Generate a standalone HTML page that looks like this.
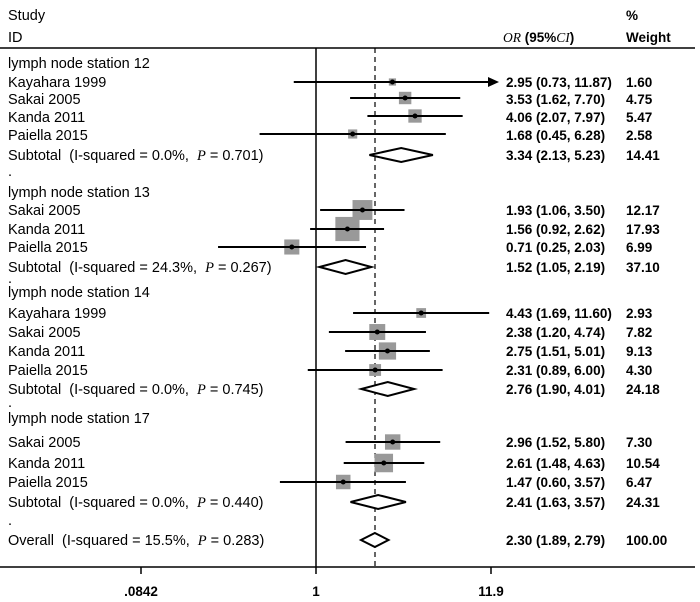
<!DOCTYPE html>
<html><head><meta charset="utf-8"><style>
body{margin:0;background:#fff}
svg{display:block}
text{font-family:"Liberation Sans",Arial,sans-serif;font-size:14.5px;fill:#000}
.n{font-size:13.5px;font-weight:bold}
.it{font-family:"Liberation Serif",serif;font-style:italic;font-weight:normal}
</style></head><body>
<svg id="s" width="700" height="602" viewBox="0 0 700 602">
<text x="8" y="20">Study</text><text x="8" y="42">ID</text>
<text class="n" x="503" y="42"><tspan class="it">OR</tspan> (95%<tspan class="it">CI</tspan>)</text>
<text class="n" x="626" y="20">%</text><text class="n" x="626" y="42">Weight</text>
<line x1="0" y1="48" x2="695" y2="48" stroke="#000" stroke-width="1.5"/>
<line x1="316" y1="48" x2="316" y2="567" stroke="#000" stroke-width="1.5"/>
<line x1="375" y1="48" x2="375" y2="567" stroke="#000" stroke-width="1.2" stroke-dasharray="5,4"/>
<line x1="0" y1="567" x2="695" y2="567" stroke="#000" stroke-width="1.5"/>
<line x1="141" y1="567" x2="141" y2="574" stroke="#000" stroke-width="1.5"/>
<line x1="316" y1="567" x2="316" y2="574" stroke="#000" stroke-width="1.5"/>
<line x1="491" y1="567" x2="491" y2="574" stroke="#000" stroke-width="1.5"/>
<text class="n" x="141" y="596" text-anchor="middle">.0842</text>
<text class="n" x="316" y="596" text-anchor="middle">1</text>
<text class="n" x="491" y="596" text-anchor="middle">11.9</text>
<g id="g"></g>
<g>
<text x="8" y="68">lymph node station 12</text>
<text x="8" y="87">Kayahara 1999</text>
<text x="8" y="104">Sakai 2005</text>
<text x="8" y="122">Kanda 2011</text>
<text x="8" y="140">Paiella 2015</text>
<text x="8" y="160">Subtotal &#160;(I-squared = 0.0%, &#160;<tspan class="it">P</tspan> = 0.701)</text>
<text x="8" y="176">.</text>
<text x="8" y="197">lymph node station 13</text>
<text x="8" y="215">Sakai 2005</text>
<text x="8" y="234">Kanda 2011</text>
<text x="8" y="252">Paiella 2015</text>
<text x="8" y="272">Subtotal &#160;(I-squared = 24.3%, &#160;<tspan class="it">P</tspan> = 0.267)</text>
<text x="8" y="283">.</text>
<text x="8" y="297">lymph node station 14</text>
<text x="8" y="318">Kayahara 1999</text>
<text x="8" y="337">Sakai 2005</text>
<text x="8" y="356">Kanda 2011</text>
<text x="8" y="375">Paiella 2015</text>
<text x="8" y="394">Subtotal &#160;(I-squared = 0.0%, &#160;<tspan class="it">P</tspan> = 0.745)</text>
<text x="8" y="407">.</text>
<text x="8" y="423">lymph node station 17</text>
<text x="8" y="447">Sakai 2005</text>
<text x="8" y="468">Kanda 2011</text>
<text x="8" y="487">Paiella 2015</text>
<text x="8" y="507">Subtotal &#160;(I-squared = 0.0%, &#160;<tspan class="it">P</tspan> = 0.440)</text>
<text x="8" y="525">.</text>
<text x="8" y="545">Overall &#160;(I-squared = 15.5%, &#160;<tspan class="it">P</tspan> = 0.283)</text>
</g>
<g class="n">
<text class="n" x="506" y="87">2.95 (0.73, 11.87)</text><text class="n" x="626" y="87">1.60</text>
<text class="n" x="506" y="104">3.53 (1.62, 7.70)</text><text class="n" x="626" y="104">4.75</text>
<text class="n" x="506" y="122">4.06 (2.07, 7.97)</text><text class="n" x="626" y="122">5.47</text>
<text class="n" x="506" y="140">1.68 (0.45, 6.28)</text><text class="n" x="626" y="140">2.58</text>
<text class="n" x="506" y="160">3.34 (2.13, 5.23)</text><text class="n" x="626" y="160">14.41</text>
<text class="n" x="506" y="215">1.93 (1.06, 3.50)</text><text class="n" x="626" y="215">12.17</text>
<text class="n" x="506" y="234">1.56 (0.92, 2.62)</text><text class="n" x="626" y="234">17.93</text>
<text class="n" x="506" y="252">0.71 (0.25, 2.03)</text><text class="n" x="626" y="252">6.99</text>
<text class="n" x="506" y="272">1.52 (1.05, 2.19)</text><text class="n" x="626" y="272">37.10</text>
<text class="n" x="506" y="318">4.43 (1.69, 11.60)</text><text class="n" x="626" y="318">2.93</text>
<text class="n" x="506" y="337">2.38 (1.20, 4.74)</text><text class="n" x="626" y="337">7.82</text>
<text class="n" x="506" y="356">2.75 (1.51, 5.01)</text><text class="n" x="626" y="356">9.13</text>
<text class="n" x="506" y="375">2.31 (0.89, 6.00)</text><text class="n" x="626" y="375">4.30</text>
<text class="n" x="506" y="394">2.76 (1.90, 4.01)</text><text class="n" x="626" y="394">24.18</text>
<text class="n" x="506" y="447">2.96 (1.52, 5.80)</text><text class="n" x="626" y="447">7.30</text>
<text class="n" x="506" y="468">2.61 (1.48, 4.63)</text><text class="n" x="626" y="468">10.54</text>
<text class="n" x="506" y="487">1.47 (0.60, 3.57)</text><text class="n" x="626" y="487">6.47</text>
<text class="n" x="506" y="507">2.41 (1.63, 3.57)</text><text class="n" x="626" y="507">24.31</text>
<text class="n" x="506" y="545">2.30 (1.89, 2.79)</text><text class="n" x="626" y="545">100.00</text>
</g>
</svg>
<script>
var X=function(v){return 316+70.66*Math.log(v)};
var g=document.getElementById('g'),h='';
var st=[[82,2.95,.73,11.87,1.6,1],[98,3.53,1.62,7.7,4.75],[116,4.06,2.07,7.97,5.47],[134,1.68,.45,6.28,2.58],
[210,1.93,1.06,3.5,12.17],[229,1.56,.92,2.62,17.93],[247,.71,.25,2.03,6.99],
[313,4.43,1.69,11.6,2.93],[332,2.38,1.2,4.74,7.82],[351,2.75,1.51,5.01,9.13],[370,2.31,.89,6,4.3],
[442,2.96,1.52,5.8,7.3],[463,2.61,1.48,4.63,10.54],[482,1.47,.6,3.57,6.47]];
st.forEach(function(r){var y=r[0],c=X(r[1]),s=Math.sqrt(r[4])*5.7;
h+='<rect x="'+(c-s/2)+'" y="'+(y-s/2)+'" width="'+s+'" height="'+s+'" fill="#999"/>';
var x2=r[5]?490:X(r[3]);
h+='<line x1="'+X(r[2])+'" y1="'+y+'" x2="'+x2+'" y2="'+y+'" stroke="#000" stroke-width="2"/>';
if(r[5])h+='<polygon points="488,'+(y-5)+' 499,'+y+' 488,'+(y+5)+'" fill="#000"/>';
h+='<circle cx="'+c+'" cy="'+y+'" r="2.5" fill="#000"/>';});
[[155,3.34,2.13,5.23],[267,1.52,1.05,2.19],[389,2.76,1.9,4.01],[502,2.41,1.63,3.57],[540,2.3,1.89,2.79]].forEach(function(r){
var y=r[0],c=X(r[1]),l=X(r[2]),u=X(r[3]);
h+='<polygon points="'+l+','+y+' '+c+','+(y-7)+' '+u+','+y+' '+c+','+(y+7)+'" fill="#fff" stroke="#000" stroke-width="2"/>';});
g.innerHTML=h;
</script>
</body></html>
